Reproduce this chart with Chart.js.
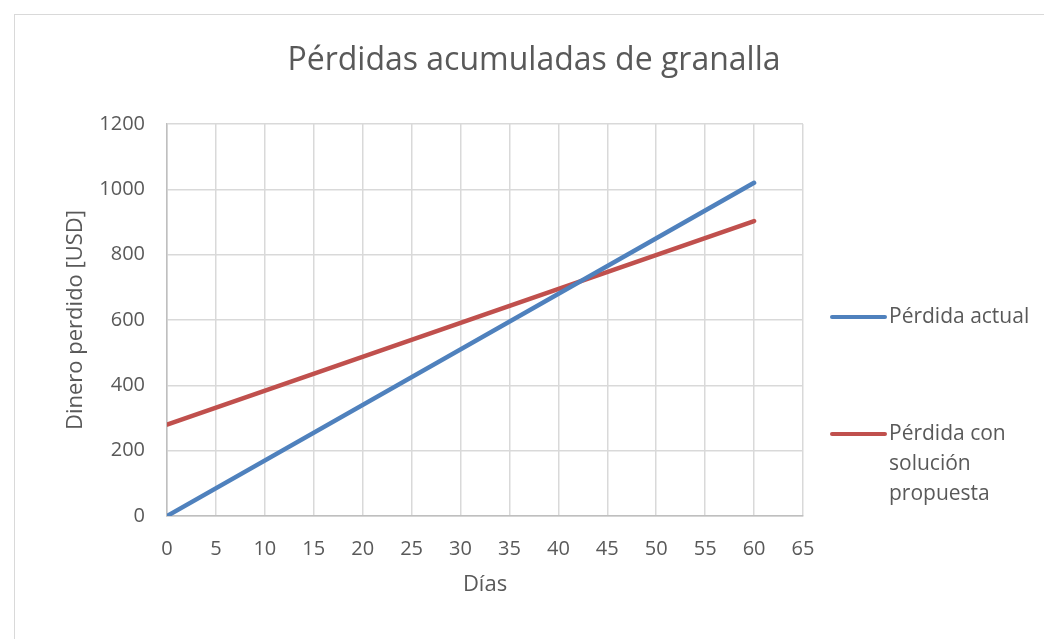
<!DOCTYPE html>
<html>
<head>
<meta charset="utf-8">
<script src="https://cdn.jsdelivr.net/npm/chart.js@4"></script>
<style>
  body { margin: 0; background: #fff; }
  #wrap {
    position: absolute; left: 14px; top: 14px;
    width: 1040px; height: 640px;
    border: 1px solid #d9d9d9; box-sizing: border-box;
  }
</style>
</head>
<body>
<div id="wrap"><canvas id="lossChart"></canvas></div>
<script>
// datos
const dias = [0, 60];
const perdidaActual = [0, 1020];
const perdidaSolucion = [280, 903];
const xTicks = [0, 5, 10, 15, 20, 25, 30, 35, 40, 45, 50, 55, 60, 65];
const yTicks = [0, 200, 400, 600, 800, 1000, 1200];
const titulo = 'Pérdidas acumuladas de granalla';
const tituloX = 'Días';
const serieNombres = ['Pérdida actual', ['Pérdida con', 'solución', 'propuesta']];

const gris = '#595959';
const fuente = "'Open Sans', 'Noto Sans', sans-serif";

/* titulo centrado en todo el lienzo, titulo del eje x y leyenda a la derecha */
const decorado = {
    id: 'decorado',
    afterDraw(chart) {
        const ctx = chart.ctx;
        const area = chart.chartArea;
        ctx.save();
        ctx.fillStyle = gris;
        ctx.textBaseline = 'middle';
        ctx.textAlign = 'center';
        ctx.font = '32px ' + fuente;
        ctx.fillText(titulo, chart.width / 2, 46);

        ctx.font = '22px ' + fuente;
        ctx.fillText(tituloX, (area.left + area.right) / 2, area.bottom + 69);

        const ys = [302, 419];
        ctx.textAlign = 'left';
        ctx.font = '21px ' + fuente;
        chart.data.datasets.forEach((ds, i) => {
            const y = ys[i];
            ctx.strokeStyle = ds.borderColor;
            ctx.lineWidth = 4;
            ctx.lineCap = 'round';
            ctx.beginPath();
            ctx.moveTo(817, y);
            ctx.lineTo(870, y);
            ctx.stroke();
            const lines = Array.isArray(serieNombres[i]) ? serieNombres[i] : [serieNombres[i]];
            lines.forEach((t, j) => ctx.fillText(t, 874, y + j * 30));
        });
        ctx.restore();
    }
};

const ctx = document.getElementById('lossChart').getContext('2d');

new Chart(ctx, {
    type: 'line',
    data: {
        datasets: [{
            label: 'Pérdida actual',
            data: dias.map((d, i) => ({ x: d, y: perdidaActual[i] })),
            borderColor: '#4f81bd',
            borderWidth: 4.5,
            borderCapStyle: 'round',
            pointRadius: 0
        }, {
            label: 'Pérdida con solución propuesta',
            data: dias.map((d, i) => ({ x: d, y: perdidaSolucion[i] })),
            borderColor: '#c0504d',
            borderWidth: 4.5,
            borderCapStyle: 'round',
            pointRadius: 0
        }]
    },
    options: {
        responsive: true,
        maintainAspectRatio: false,
        animation: false,
        layout: { padding: { left: 44, right: 250, top: 109, bottom: 77 } },
        plugins: {
            legend: { display: false },
            tooltip: { enabled: false },
            title: { display: false }
        },
        scales: {
            x: {
                type: 'linear',
                min: 0, max: 65,
                afterBuildTicks: s => { s.ticks = xTicks.map(v => ({ value: v })); },
                afterFit: s => { s.height = 60; },
                ticks: { color: gris, font: { family: fuente, size: 20 }, padding: 21 },
                grid: { color: '#d9d9d9', lineWidth: 1.5, drawTicks: false },
                border: { color: '#bfbfbf', width: 1.5 }
            },
            y: {
                min: 0, max: 1200,
                afterBuildTicks: s => { s.ticks = yTicks.map(v => ({ value: v })); },
                afterFit: s => { s.width = 108; },
                ticks: {
                    color: gris, font: { family: fuente, size: 20 }, padding: 22,
                    callback: v => String(v)
                },
                grid: { color: '#d9d9d9', lineWidth: 1.5, drawTicks: false },
                border: { color: '#bfbfbf', width: 1.5 },
                title: {
                    display: true, text: 'Dinero perdido [USD]', color: gris,
                    font: { family: fuente, size: 22 }, padding: { bottom: 0 }
                }
            }
        }
    },
    plugins: [decorado]
});
</script>
</body>
</html>
